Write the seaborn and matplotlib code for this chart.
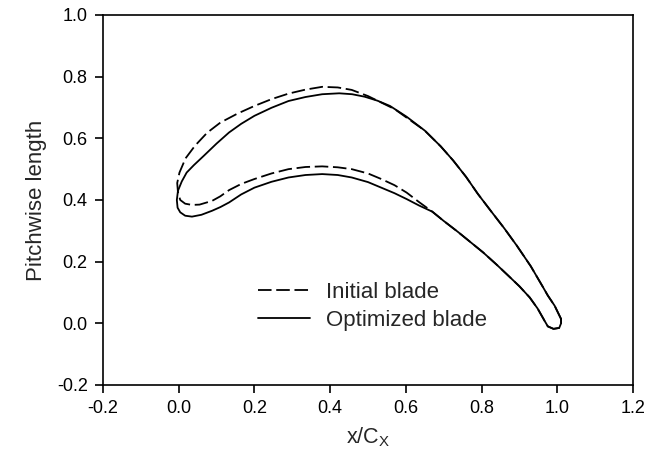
import matplotlib
matplotlib.use("Agg")
import matplotlib.pyplot as plt
import seaborn as sns
import pandas as pd

# Initial blade (closed contour: trailing edge -> suction side -> leading edge -> pressure side -> trailing edge)
init_x = [1.010, 0.993, 0.975, 0.960, 0.930, 0.893, 0.860, 0.826, 0.790, 0.759, 0.725, 0.692, 0.650,
          0.602, 0.570, 0.535, 0.500, 0.457, 0.420, 0.379, 0.335, 0.290, 0.245, 0.200, 0.155, 0.110,
          0.075, 0.043, 0.018, 0.002, -0.004, -0.002, 0.004, 0.017, 0.035, 0.055, 0.088, 0.110, 0.133,
          0.165, 0.200, 0.245, 0.290, 0.335, 0.379, 0.420, 0.457, 0.500, 0.535, 0.570, 0.602, 0.635,
          0.670, 0.700, 0.737, 0.770, 0.804, 0.840, 0.871, 0.900, 0.927, 0.948, 0.966, 0.975, 0.990,
          1.005, 1.010, 1.010]
init_y = [0.014, 0.057, 0.090, 0.122, 0.185, 0.252, 0.308, 0.362, 0.420, 0.475, 0.528, 0.574, 0.625,
          0.667, 0.695, 0.716, 0.737, 0.757, 0.765, 0.767, 0.758, 0.745, 0.727, 0.705, 0.680, 0.651,
          0.618, 0.576, 0.535, 0.489, 0.455, 0.425, 0.400, 0.388, 0.384, 0.385, 0.397, 0.412, 0.432,
          0.452, 0.468, 0.486, 0.500, 0.507, 0.509, 0.506, 0.500, 0.486, 0.468, 0.448, 0.424, 0.393,
          0.362, 0.332, 0.297, 0.264, 0.230, 0.190, 0.154, 0.120, 0.084, 0.048, 0.009, -0.010, -0.018,
          -0.015, 0.000, 0.014]

# Optimized blade
opt_x = [1.010, 0.993, 0.975, 0.960, 0.930, 0.893, 0.860, 0.826, 0.790, 0.759, 0.725, 0.692, 0.650,
         0.602, 0.558, 0.525, 0.491, 0.458, 0.424, 0.379, 0.335, 0.290, 0.245, 0.200, 0.165, 0.133,
         0.100, 0.066, 0.040, 0.021, 0.008, -0.002, -0.005, -0.003, 0.004, 0.017, 0.035, 0.060, 0.088,
         0.110, 0.133, 0.165, 0.200, 0.245, 0.290, 0.335, 0.379, 0.420, 0.457, 0.500, 0.535, 0.570,
         0.602, 0.635, 0.670, 0.700, 0.737, 0.770, 0.804, 0.840, 0.871, 0.900, 0.927, 0.948, 0.966,
         0.975, 0.990, 1.005, 1.010, 1.010]
opt_y = [0.014, 0.057, 0.090, 0.122, 0.185, 0.252, 0.308, 0.362, 0.420, 0.475, 0.528, 0.574, 0.625,
         0.670, 0.705, 0.722, 0.735, 0.743, 0.746, 0.743, 0.734, 0.721, 0.699, 0.673, 0.647, 0.619,
         0.583, 0.543, 0.513, 0.489, 0.460, 0.430, 0.400, 0.375, 0.360, 0.349, 0.346, 0.352, 0.365,
         0.377, 0.392, 0.418, 0.440, 0.459, 0.473, 0.481, 0.484, 0.481, 0.473, 0.458, 0.440, 0.422,
         0.403, 0.382, 0.362, 0.332, 0.297, 0.264, 0.230, 0.190, 0.154, 0.120, 0.084, 0.048, 0.009,
         -0.010, -0.018, -0.015, 0.000, 0.014]

labels = ["Initial blade", "Optimized blade"]
x_ticks = [-0.2, 0.0, 0.2, 0.4, 0.6, 0.8, 1.0, 1.2]
y_ticks = [-0.2, 0.0, 0.2, 0.4, 0.6, 0.8, 1.0]

sns.set_theme(style="ticks")
plt.rcParams["font.family"] = ["Liberation Sans", "DejaVu Sans"]

fig = plt.figure(figsize=(6.65, 4.61), dpi=100)
ax = fig.add_axes([0.1549, 0.1649, 0.7970, 0.8026])

df_init = pd.DataFrame({"x": init_x, "y": init_y})
df_opt = pd.DataFrame({"x": opt_x, "y": opt_y})

sns.lineplot(data=df_init, x="x", y="y", sort=False, estimator=None, ax=ax,
             color="black", lw=1.3, label=labels[0])
sns.lineplot(data=df_opt, x="x", y="y", sort=False, estimator=None, ax=ax,
             color="black", lw=1.3, label=labels[1])
ax.lines[0].set_dashes([7.5, 2.6])

ax.set_xlim(-0.2, 1.2)
ax.set_ylim(-0.2, 1.0)
ax.set_xticks(x_ticks)
ax.set_yticks(y_ticks)
ax.set_xticklabels([f"{v:.1f}" for v in x_ticks])
ax.set_yticklabels([f"{v:.1f}" for v in y_ticks])
ax.tick_params(direction="out", length=6, width=1.2, labelsize=13, colors="black", pad=5)
for s in ax.spines.values():
    s.set_linewidth(1.2)
    s.set_color("black")

ax.set_xlabel(r"x/C$_\mathregular{X}$", fontsize=15.5, labelpad=6)
ax.set_ylabel("Pitchwise length", fontsize=16, labelpad=7)

leg = ax.legend(loc="center left", bbox_to_anchor=(0.292, 0.212), frameon=False,
                fontsize=16, handlelength=2.35, handletextpad=0.7, labelspacing=0.3,
                borderaxespad=0, borderpad=0)
leg.get_lines()[0].set_dashes([7.5, 2.6])

fig.savefig("out.png", dpi=100)
